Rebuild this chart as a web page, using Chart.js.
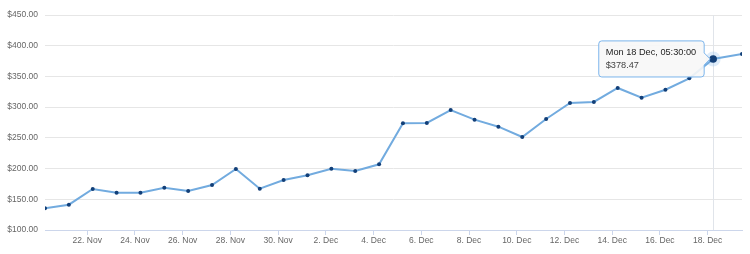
<!DOCTYPE html>
<html>
<head>
<meta charset="utf-8">
<script src="https://cdn.jsdelivr.net/npm/chart.js@4/dist/chart.umd.min.js"></script>
<style>
    body { margin: 0; background: #fff; }
    #wrap { width: 750px; height: 254px; }
</style>
</head>
<body>
<div id="wrap"><canvas id="priceChart"></canvas></div>
<script>
// ===== Price history data =====
const year = 2017;
const dayLabels = [
    '20 Nov', '21 Nov', '22 Nov', '23 Nov', '24 Nov', '25 Nov', '26 Nov', '27 Nov', '28 Nov', '29 Nov', '30 Nov',
    '1 Dec', '2 Dec', '3 Dec', '4 Dec', '5 Dec', '6 Dec', '7 Dec', '8 Dec', '9 Dec', '10 Dec',
    '11 Dec', '12 Dec', '13 Dec', '14 Dec', '15 Dec', '16 Dec', '17 Dec', '18 Dec', '19 Dec'
];
const prices = [
    135.3, 141.2, 166.7, 160.8, 160.8, 168.9, 163.5, 173.3, 199.3, 167.3, 181.4,
    189.0, 199.8, 196.0, 206.9, 273.7, 274.3, 295.3, 279.6, 268.2, 251.4,
    280.7, 306.7, 308.4, 331.2, 315.4, 328.4, 346.9, 378.47, 386.5
];
const sampleHour = 5.5;      // daily samples at 05:30
const lastSampleHour = 10.5; // latest sample taken later in the day
const tickLabels = [
    '22. Nov', '24. Nov', '26. Nov', '28. Nov', '30. Nov', '2. Dec', '4. Dec',
    '6. Dec', '8. Dec', '10. Dec', '12. Dec', '14. Dec', '16. Dec', '18. Dec'
];
const yMin = 100;
const yMax = 450;
const yStep = 50;
const activeIndex = 28;

const FONT = '"Liberation Sans", Arial, sans-serif';

function pointHour(i) {
    return i === prices.length - 1 ? lastSampleHour : sampleHour;
}

function formatTime(hr) {
    const h = Math.floor(hr);
    const m = Math.round((hr - h) * 60);
    return String(h).padStart(2, '0') + ':' + String(m).padStart(2, '0') + ':00';
}

const points = prices.map((p, i) => ({ x: i + pointHour(i) / 24, y: p }));
const tickValues = tickLabels.map(l => dayLabels.indexOf(l.replace('. ', ' ')));

// crosshair + halo behind the hovered point
const hoverPlugin = {
    id: 'hoverDecor',
    beforeDatasetsDraw(chart) {
        const active = chart.getActiveElements();
        if (!active.length) return;
        const el = active[0].element;
        const area = chart.chartArea;
        const ctx = chart.ctx;
        ctx.save();
        ctx.strokeStyle = '#e0e4ea';
        ctx.lineWidth = 1;
        ctx.beginPath();
        ctx.moveTo(Math.round(el.x) + 0.5, area.top);
        ctx.lineTo(Math.round(el.x) + 0.5, area.bottom);
        ctx.stroke();
        ctx.fillStyle = 'rgba(124, 181, 236, 0.25)';
        ctx.beginPath();
        ctx.arc(el.x, el.y, 7.5, 0, Math.PI * 2);
        ctx.fill();
        ctx.restore();
    }
};

const chart = new Chart(document.getElementById('priceChart'), {
    type: 'line',
    data: {
        datasets: [{
            data: points,
            borderColor: '#72abdf',
            borderWidth: 2,
            tension: 0,
            pointRadius: 2,
            pointBackgroundColor: '#123f78',
            pointBorderWidth: 0,
            pointHoverRadius: 3.8,
            pointHoverBackgroundColor: '#123f78',
            pointHoverBorderWidth: 0
        }]
    },
    options: {
        responsive: true,
        maintainAspectRatio: false,
        animation: false,
        events: [],
        layout: { padding: { top: 15, right: 8, left: 0, bottom: 0 } },
        plugins: {
            legend: { display: false },
            tooltip: {
                enabled: true,
                xAlign: 'right',
                yAlign: 'center',
                caretSize: 6,
                caretPadding: 3,
                backgroundColor: 'rgba(247, 247, 247, 0.9)',
                borderColor: '#7cb5ec',
                borderWidth: 1,
                cornerRadius: 3,
                padding: { left: 7, right: 8, top: 6, bottom: 6 },
                displayColors: false,
                titleColor: '#222',
                bodyColor: '#444',
                titleFont: { family: FONT, size: 9.2, weight: 'normal' },
                bodyFont: { family: FONT, size: 9.2 },
                titleMarginBottom: 2,
                callbacks: {
                    title: items => {
                        const i = items[0].dataIndex;
                        const d = new Date(dayLabels[i] + ' ' + year);
                        const wd = d.toLocaleDateString('en-US', { weekday: 'short' });
                        return wd + ' ' + dayLabels[i] + ', ' + formatTime(pointHour(i));
                    },
                    label: item => '$' + item.parsed.y.toFixed(2)
                }
            }
        },
        scales: {
            x: {
                type: 'linear',
                min: points[0].x,
                max: points[points.length - 1].x,
                afterBuildTicks: scale => {
                    scale.ticks = tickValues.map(v => ({ value: v }));
                },
                afterFit: scale => { scale.height = 24; },
                grid: {
                    drawOnChartArea: false,
                    drawTicks: true,
                    tickLength: 5,
                    color: '#ccd6eb'
                },
                border: { color: '#ccd6eb' },
                ticks: {
                    autoSkip: false,
                    maxRotation: 0,
                    padding: 1,
                    color: '#666',
                    font: { family: FONT, size: 8.5 },
                    callback: v => tickLabels[tickValues.indexOf(v)]
                }
            },
            y: {
                min: yMin,
                max: yMax,
                afterFit: scale => { scale.width = 45; },
                grid: { color: '#e6e6e6', drawTicks: false },
                border: { display: false },
                ticks: {
                    stepSize: yStep,
                    padding: 7,
                    color: '#666',
                    font: { family: FONT, size: 8.5 },
                    callback: v => '$' + v.toFixed(2)
                }
            }
        }
    },
    plugins: [hoverPlugin]
});

// show the hovered state for the 18 Dec sample
const activeEls = [{ datasetIndex: 0, index: activeIndex }];
chart.setActiveElements(activeEls);
const el = chart.getDatasetMeta(0).data[activeIndex];
chart.tooltip.setActiveElements(activeEls, { x: el.x, y: el.y });
chart.update();
</script>
</body>
</html>
